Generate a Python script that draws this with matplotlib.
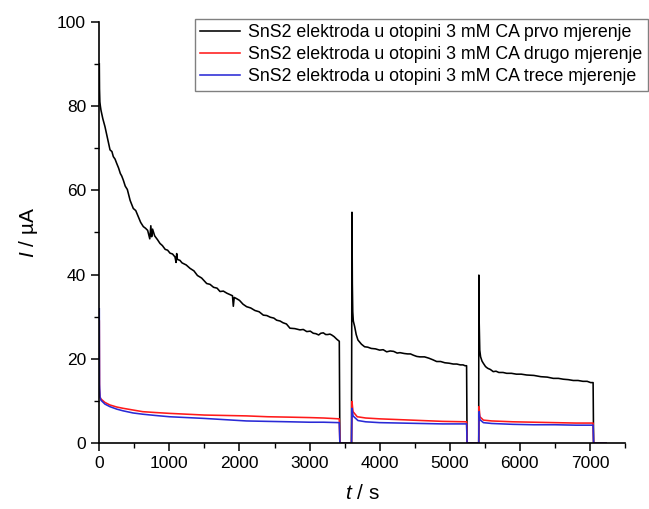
import matplotlib
matplotlib.use("Agg")
import matplotlib.pyplot as plt
from matplotlib.ticker import MultipleLocator

plt.rcParams['font.family'] = ['Liberation Sans', 'DejaVu Sans']
plt.rcParams['mathtext.fontset'] = 'custom'
plt.rcParams['mathtext.it'] = 'Liberation Sans:italic'
plt.rcParams['mathtext.rm'] = 'Liberation Sans'

# ---- data ----
labels = ["SnS2 elektroda u otopini 3 mM CA prvo mjerenje",
          "SnS2 elektroda u otopini 3 mM CA drugo mjerenje",
          "SnS2 elektroda u otopini 3 mM CA trece mjerenje"]

t_black = [0, 3, 8, 15, 24, 50, 81, 115, 153, 180, 200, 225, 248, 275, 300, 320,
           343, 370, 400, 440, 485, 520, 550, 590, 628, 660, 690, 720, 735, 747,
           760, 790, 830, 866, 900, 940, 975, 1009, 1045, 1080, 1095, 1104, 1115,
           1150, 1180, 1240, 1294, 1350, 1400, 1460, 1532, 1580, 1630, 1680, 1722,
           1770, 1820, 1860, 1900, 1912, 1925, 1960, 2000, 2050, 2102, 2160, 2220,
           2280, 2340, 2390, 2440, 2490, 2530, 2580, 2620, 2670, 2720, 2790, 2863,
           2910, 2960, 3010, 3053, 3090, 3130, 3160, 3196, 3230, 3260, 3290, 3315,
           3350, 3387, 3424, 3432, 3598, 3605, 3610, 3616, 3624, 3643, 3665, 3690,
           3740, 3785, 3830, 3880, 3940, 4000, 4050, 4100, 4150, 4200, 4250, 4290,
           4350, 4400, 4440, 4480, 4530, 4575, 4640, 4700, 4760, 4813, 4870, 4930,
           4990, 5050, 5100, 5150, 5190, 5217, 5240, 5247, 5413, 5415, 5420, 5428,
           5440, 5460, 5478, 5510, 5540, 5580, 5620, 5660, 5700, 5760, 5812, 5880,
           5950, 6020, 6097, 6200, 6300, 6390, 6477, 6550, 6620, 6690, 6762, 6830,
           6900, 6960, 7010, 7045, 7052, 7230]
i_black = [90.0, 84.0, 81.0, 80.0, 79.0, 77.0, 75.1, 72.5, 69.6, 69.2, 68.0, 67.4,
           66.4, 65.3, 64.0, 63.4, 62.4, 61.0, 60.2, 57.6, 55.7, 55.2, 54.0, 52.4,
           51.4, 51.0, 50.5, 48.5, 51.6, 49.0, 50.8, 49.2, 48.3, 47.4, 46.9, 46.0,
           45.8, 45.1, 44.9, 44.2, 42.9, 45.0, 43.6, 43.4, 42.8, 42.3, 41.5, 40.9,
           39.8, 39.2, 37.9, 37.7, 37.0, 36.8, 36.0, 36.1, 35.6, 35.3, 35.0, 32.5,
           34.6, 34.3, 33.9, 33.0, 32.4, 32.1, 31.5, 31.2, 30.4, 30.3, 29.9, 29.7,
           29.2, 29.0, 28.6, 28.3, 27.3, 27.2, 26.9, 27.0, 26.5, 26.6, 26.1, 26.0,
           25.7, 26.1, 26.2, 25.8, 25.8, 25.9, 25.7, 25.3, 24.7, 24.2, 0.0, 0.0,
           54.8, 37.9, 31.2, 29.0, 27.7, 25.8, 24.5, 23.5, 22.9, 22.8, 22.5, 22.4,
           22.1, 22.2, 21.7, 21.9, 21.8, 21.4, 21.5, 21.3, 21.2, 21.2, 20.9, 20.6,
           20.5, 20.5, 20.2, 19.8, 19.4, 19.4, 19.1, 19.0, 18.8, 18.8, 18.6, 18.6,
           18.4, 18.4, 0.0, 0.0, 39.9, 28.5, 22.1, 20.5, 19.5, 19.0, 18.2, 17.8,
           17.5, 17.0, 17.1, 16.8, 16.8, 16.6, 16.6, 16.4, 16.4, 16.2, 16.1, 15.8,
           15.7, 15.4, 15.4, 15.2, 15.1, 14.9, 14.9, 14.7, 14.7, 14.4, 14.4, 0.0,
           0.0]

t_red = [0, 3, 10, 24, 80, 150, 250, 340, 480, 620, 800, 1000, 1250, 1500, 1800,
         2100, 2400, 2720, 3000, 3200, 3424, 3432, 3598, 3605, 3620, 3680, 3800,
         4000, 4300, 4600, 4900, 5240, 5247, 5413, 5418, 5430, 5480, 5600, 5900,
         6200, 6500, 6800, 7045, 7052, 7230]
i_red = [29.0, 13.0, 11.0, 10.5, 9.7, 9.1, 8.6, 8.3, 7.9, 7.5, 7.3, 7.1, 6.9, 6.7,
         6.6, 6.5, 6.3, 6.2, 6.1, 6.0, 5.8, 0.0, 0.0, 9.9, 7.5, 6.3, 6.0, 5.8, 5.6,
         5.4, 5.2, 5.1, 0.0, 0.0, 8.7, 6.3, 5.5, 5.3, 5.1, 5.0, 4.9, 4.8, 4.8, 0.0,
         0.0]

t_blue = [0, 3, 10, 24, 80, 150, 250, 340, 480, 620, 800, 1000, 1250, 1500, 1800,
          2100, 2400, 2720, 3000, 3200, 3424, 3432, 3598, 3605, 3620, 3690, 3800,
          4000, 4300, 4600, 4900, 5240, 5247, 5413, 5418, 5430, 5480, 5600, 5900,
          6200, 6500, 6800, 7045, 7052, 7230]
i_blue = [31.9, 14.0, 11.0, 10.2, 9.3, 8.7, 8.1, 7.7, 7.2, 6.9, 6.6, 6.3, 6.1, 5.9,
          5.6, 5.3, 5.2, 5.1, 5.0, 5.0, 4.9, 0.0, 0.0, 8.3, 6.5, 5.4, 5.1, 4.9, 4.8,
          4.7, 4.6, 4.6, 0.0, 0.0, 7.5, 5.6, 4.9, 4.7, 4.5, 4.4, 4.4, 4.3, 4.3, 0.0,
          0.0]

colors = ['#000000', '#ff1a1a', '#2a2ad6']

# ---- figure ----
W, H = 649, 509
fig = plt.figure(figsize=(W / 100, H / 100), dpi=100)
ax = fig.add_axes([99.3 / W, 1 - 443.3 / H, (625 - 99.3) / W, (443.3 - 21.7) / H])

for t, i, c, lab in zip([t_black, t_red, t_blue], [i_black, i_red, i_blue], colors, labels):
    ax.plot(t, i, color=c, lw=1.15, label=lab)

ax.set_xlim(0, 7500)
ax.set_ylim(0, 100)
ax.xaxis.set_major_locator(MultipleLocator(1000))
ax.xaxis.set_minor_locator(MultipleLocator(500))
ax.yaxis.set_major_locator(MultipleLocator(20))
ax.yaxis.set_minor_locator(MultipleLocator(10))

for s in ['top', 'right']:
    ax.spines[s].set_visible(False)
for s in ['left', 'bottom']:
    ax.spines[s].set_linewidth(1.2)

ax.tick_params(which='major', direction='out', length=5.5, width=1.1, labelsize=12.5, pad=4)
ax.tick_params(which='minor', direction='out', length=3.5, width=1.0)

ax.set_xlabel(r'$\mathit{t}$ / s', fontsize=15, labelpad=9)
ax.set_ylabel(r'$\mathit{I}$ / µA', fontsize=15, labelpad=12)

leg = ax.legend(loc='upper right', bbox_to_anchor=(648 / W, 1 - 19 / H),
                bbox_transform=fig.transFigure, fontsize=12.8, frameon=True,
                fancybox=False, framealpha=1, edgecolor='#808080',
                handlelength=2.2, handletextpad=0.5, labelspacing=0.28,
                borderpad=0.3, borderaxespad=0)
leg.get_frame().set_linewidth(1.0)

fig.savefig('out.png', dpi=100)
